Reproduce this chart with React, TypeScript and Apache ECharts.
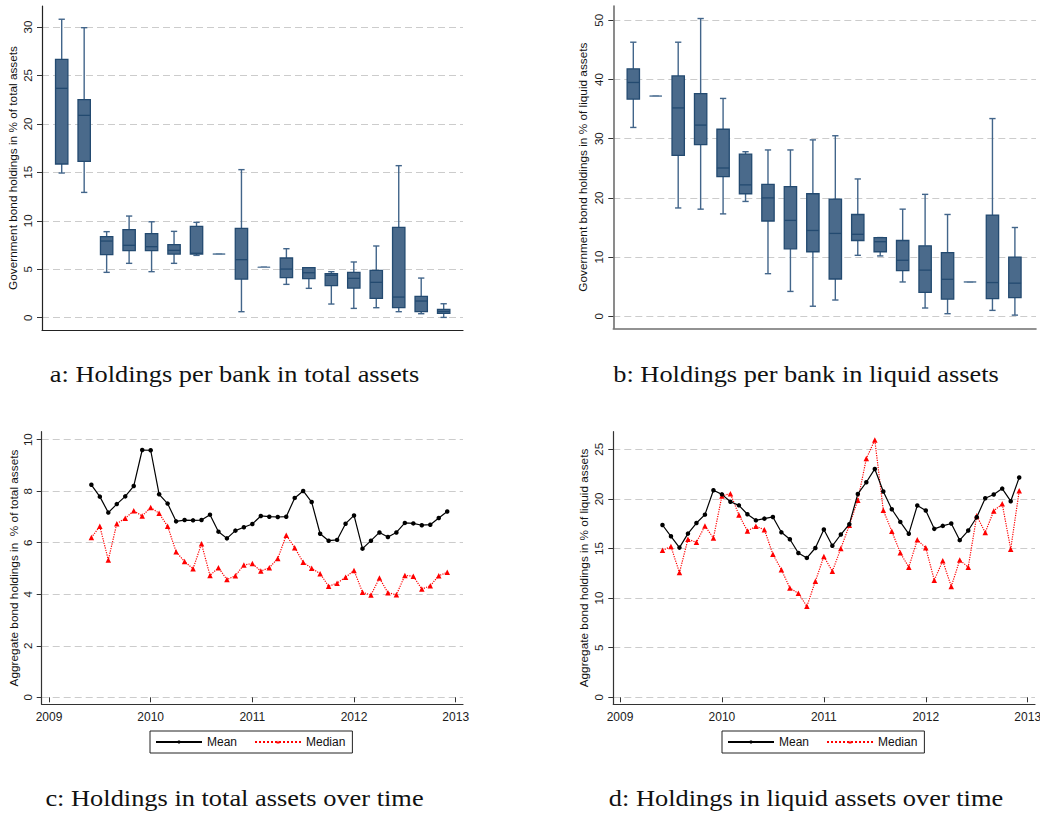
import React, { useEffect, useRef } from "react";
import * as echarts from "echarts";

// Month of each observation in the two time-series panels
const months = [
  "2009-06", "2009-07", "2009-08", "2009-09", "2009-10", "2009-11", "2009-12",
  "2010-01", "2010-02", "2010-03", "2010-04", "2010-05", "2010-06", "2010-07",
  "2010-08", "2010-09", "2010-10", "2010-11", "2010-12",
  "2011-01", "2011-02", "2011-03", "2011-04", "2011-05", "2011-06", "2011-07",
  "2011-08", "2011-09", "2011-10", "2011-11", "2011-12",
  "2012-01", "2012-02", "2012-03", "2012-04", "2012-05", "2012-06", "2012-07",
  "2012-08", "2012-09", "2012-10", "2012-11", "2012-12",
];

// Box statistics per group: [lower whisker, Q1, median, Q3, upper whisker]
const totalAssetBoxes = [
  [14.93, 15.86, 23.67, 26.66, 30.8],
  [12.93, 16.13, 20.88, 22.5, 29.93],
  [4.68, 6.5, 7.91, 8.36, 8.88],
  [5.61, 6.92, 7.47, 9.08, 10.49],
  [4.75, 6.92, 7.33, 8.67, 9.9],
  [5.61, 6.57, 6.95, 7.54, 8.91],
  [6.43, 6.57, 6.65, 9.43, 9.84],
  [6.57, 6.57, 6.57, 6.57, 6.57],
  [0.62, 3.99, 5.99, 9.22, 15.28],
  [5.2, 5.2, 5.2, 5.2, 5.2],
  [3.44, 4.13, 5.02, 6.16, 7.12],
  [3.03, 4.03, 4.64, 5.16, 5.16],
  [1.41, 3.3, 4.37, 4.54, 4.75],
  [0.96, 3.06, 4.06, 4.68, 5.75],
  [1.03, 2.0, 3.65, 4.89, 7.4],
  [0.62, 1.03, 2.13, 9.32, 15.69],
  [0.41, 0.62, 1.72, 2.2, 4.09],
  [0.03, 0.45, 0.65, 0.86, 1.44],
];

const liquidAssetBoxes = [
  [31.9, 36.7, 39.5, 41.8, 46.3],
  [37.2, 37.2, 37.2, 37.2, 37.2],
  [18.3, 27.2, 35.2, 40.6, 46.3],
  [18.1, 29.0, 32.3, 37.6, 50.3],
  [17.3, 23.6, 25.05, 31.6, 36.8],
  [19.4, 20.7, 22.2, 27.4, 27.8],
  [7.2, 16.1, 20.0, 22.3, 28.1],
  [4.2, 11.4, 16.2, 21.9, 28.1],
  [1.7, 10.9, 14.5, 20.7, 29.8],
  [2.75, 6.3, 14.0, 19.8, 30.5],
  [10.3, 12.8, 13.85, 17.2, 23.2],
  [10.2, 10.9, 12.6, 13.3, 13.3],
  [5.8, 7.7, 9.46, 12.8, 18.1],
  [1.4, 4.05, 7.8, 11.9, 20.6],
  [0.44, 2.9, 6.25, 10.75, 17.2],
  [5.8, 5.8, 5.8, 5.8, 5.8],
  [1.0, 3.0, 5.7, 17.1, 33.4],
  [0.2, 3.15, 5.6, 10.0, 15.0],
];

// Aggregate holdings in % of total assets
const meanTotal = [
  8.25, 7.79, 7.17, 7.5, 7.8, 8.2, 9.6, 9.59, 7.88, 7.52,
  6.83, 6.88, 6.87, 6.88, 7.09, 6.43, 6.17, 6.47, 6.6, 6.73,
  7.04, 7.01, 7.0, 7.01, 7.74, 8.01, 7.58, 6.35, 6.08, 6.11,
  6.74, 7.06, 5.77, 6.08, 6.4, 6.22, 6.4, 6.77, 6.75, 6.68,
  6.7, 6.96, 7.21,
];
const medianTotal = [
  6.2, 6.64, 5.33, 6.74, 6.95, 7.24, 7.04, 7.37, 7.14, 6.64,
  5.65, 5.27, 4.99, 5.96, 4.73, 5.03, 4.57, 4.72, 5.14, 5.19,
  4.9, 5.03, 5.39, 6.29, 5.81, 5.24, 5.01, 4.8, 4.31, 4.43,
  4.66, 4.92, 4.08, 3.97, 4.63, 4.06, 3.98, 4.73, 4.7, 4.2,
  4.33, 4.72, 4.85,
];

// Aggregate holdings in % of liquid assets
const meanLiquid = [
  17.37, 16.23, 15.09, 16.5, 17.57, 18.41, 20.87, 20.46, 19.72, 19.35,
  18.45, 17.84, 18.01, 18.18, 16.63, 15.93, 14.55, 14.05, 15.05, 16.91,
  15.27, 16.41, 17.45, 20.5, 21.68, 23.02, 20.74, 18.96, 17.68, 16.48,
  19.33, 18.83, 16.98, 17.28, 17.52, 15.84, 16.81, 18.15, 20.07, 20.44,
  21.04, 19.77, 22.15,
];
const medianLiquid = [
  14.82, 15.19, 12.57, 15.93, 15.62, 17.27, 16.06, 20.3, 20.53, 18.38,
  16.77, 17.24, 16.9, 14.42, 12.87, 11.02, 10.48, 9.17, 11.69, 14.2,
  12.7, 15.0, 17.35, 19.87, 24.06, 25.94, 18.85, 16.74, 14.56, 13.12,
  15.87, 15.07, 11.81, 13.76, 11.17, 13.83, 13.12, 18.29, 16.61, 18.79,
  19.5, 14.93, 20.81,
];

const yearTicks = [2009, 2010, 2011, 2012, 2013];

const captions = [
  "a: Holdings per bank in total assets",
  "b: Holdings per bank in liquid assets",
  "c: Holdings in total assets over time",
  "d: Holdings in liquid assets over time",
];

const SANS = "'Liberation Sans', Arial, Helvetica, sans-serif";
const SERIF = "'Liberation Serif', 'Times New Roman', serif";

const BOX_FILL = "#4a6a8b";
const BOX_EDGE = "#234a70";
const WHISKER = "#42658a";
const GRID_DASH = "#cccccc";

function monthToYear(m: string): number {
  const [y, mo] = m.split("-").map(Number);
  return y + (mo - 1) / 12;
}

type Rect = { left: number; top: number; width: number; height: number };

function buildOption() {
  const grids: any[] = [];
  const xAxes: any[] = [];
  const yAxes: any[] = [];
  const series: any[] = [];

  const addGrid = (r: Rect) => {
    grids.push({ ...r, containLabel: false, outerBoundsMode: "none" });
    return grids.length - 1;
  };

  // Outer L-shaped frame carrying the axis lines and the y-axis title
  const addFrame = (r: Rect, name: string, nameGap: number, color: string, width: number) => {
    const gi = addGrid(r);
    const common = {
      gridIndex: gi,
      type: "value",
      min: 0,
      max: 1,
      axisTick: { show: false },
      axisLabel: { show: false },
      splitLine: { show: false },
      axisLine: { show: true, onZero: false, lineStyle: { color, width } },
    };
    xAxes.push({ ...common });
    yAxes.push({
      ...common,
      name,
      nameLocation: "middle",
      nameGap,
      nameRotate: 90,
      nameMoveOverlap: false,
      nameTextStyle: { fontFamily: SANS, fontSize: 11.8, color: "#111" },
    });
  };

  // Value scale with dashed grid lines and rotated tick labels
  const addScale = (r: Rect, yMax: number, yInterval: number, xMin: number, xMax: number) => {
    const gi = addGrid(r);
    xAxes.push({ gridIndex: gi, type: "value", min: xMin, max: xMax, show: false });
    yAxes.push({
      gridIndex: gi,
      type: "value",
      min: 0,
      max: yMax,
      interval: yInterval,
      axisLine: { show: false },
      axisTick: { show: true, length: 5, lineStyle: { color: "#333", width: 1 } },
      axisLabel: {
        rotate: 90,
        margin: 8,
        fontFamily: SANS,
        fontSize: 11.5,
        color: "#1a1a1a",
        formatter: (v: number) => String(v),
      },
      splitLine: { show: true, lineStyle: { color: GRID_DASH, width: 1.2, type: [7, 4] } },
    });
    return gi;
  };

  // Time axis for the line panels
  const addTime = (r: Rect, yMax: number) => {
    const gi = addGrid(r);
    xAxes.push({
      gridIndex: gi,
      type: "value",
      min: yearTicks[0],
      max: yearTicks[yearTicks.length - 1],
      interval: 1,
      offset: 7,
      axisLine: { show: false },
      axisTick: { show: true, length: 5, lineStyle: { color: "#333", width: 1 } },
      axisLabel: {
        margin: 7,
        fontFamily: SANS,
        fontSize: 12,
        color: "#1a1a1a",
        formatter: (v: number) => String(v),
      },
      splitLine: { show: false },
    });
    yAxes.push({ gridIndex: gi, type: "value", min: 0, max: yMax, show: false });
    return gi;
  };

  const boxRenderer = (params: any, api: any) => {
    const x = api.value(0);
    const lo = api.coord([x, api.value(1)]);
    const q1 = api.coord([x, api.value(2)]);
    const md = api.coord([x, api.value(3)]);
    const q3 = api.coord([x, api.value(4)]);
    const hi = api.coord([x, api.value(5)]);
    const band = api.size([1, 0])[0];
    const w = band * 0.55;
    const cap = band * 0.28;
    const cx = md[0];
    const flat = q1[1] - q3[1] < 0.5;
    const whisk = { stroke: WHISKER, lineWidth: 1.4 };
    const children: any[] = [
      { type: "line", shape: { x1: cx, y1: q3[1], x2: cx, y2: hi[1] }, style: whisk },
      { type: "line", shape: { x1: cx, y1: q1[1], x2: cx, y2: lo[1] }, style: whisk },
      { type: "line", shape: { x1: cx - cap / 2, y1: hi[1], x2: cx + cap / 2, y2: hi[1] }, style: whisk },
      { type: "line", shape: { x1: cx - cap / 2, y1: lo[1], x2: cx + cap / 2, y2: lo[1] }, style: whisk },
      {
        type: "rect",
        shape: { x: cx - w / 2, y: q3[1], width: w, height: Math.max(q1[1] - q3[1], 0) },
        style: { fill: BOX_FILL, stroke: flat ? "#6d89a6" : BOX_EDGE, lineWidth: 1.3 },
      },
      {
        type: "line",
        shape: { x1: cx - w / 2, y1: md[1], x2: cx + w / 2, y2: md[1] },
        style: { stroke: flat ? "#6d89a6" : BOX_EDGE, lineWidth: 1.3 },
      },
    ];
    return { type: "group", children };
  };

  const addBoxes = (gi: number, boxes: number[][]) => {
    series.push({
      type: "custom",
      xAxisIndex: gi,
      yAxisIndex: gi,
      renderItem: boxRenderer,
      encode: { x: 0, y: [1, 2, 3, 4, 5] },
      data: boxes.map((b, i) => [i + 1, ...b]),
      clip: false,
    });
  };

  const addLines = (gi: number, mean: number[], median: number[]) => {
    const xs = months.map(monthToYear);
    series.push({
      type: "line",
      name: "Mean",
      xAxisIndex: gi,
      yAxisIndex: gi,
      data: xs.map((x, i) => [x, mean[i]]),
      symbol: "circle",
      symbolSize: 4.5,
      showAllSymbol: true,
      clip: false,
      itemStyle: { color: "#000" },
      lineStyle: { color: "#000", width: 1.2 },
      z: 3,
    });
    series.push({
      type: "line",
      name: "Median",
      xAxisIndex: gi,
      yAxisIndex: gi,
      data: xs.map((x, i) => [x, median[i]]),
      symbol: "triangle",
      symbolSize: 5.5,
      showAllSymbol: true,
      clip: false,
      itemStyle: { color: "#ff0000" },
      lineStyle: { color: "#ff0000", width: 1.2, type: "dotted" },
      z: 2,
    });
  };

  // Panel a
  addFrame({ left: 42, top: 6, width: 421, height: 324 }, "Government bond holdings in % of total assets", 23, "#222", 1.2);
  const ga = addScale({ left: 42, top: 27, width: 421, height: 290.7 }, 30, 5, 0.123, 18.86);
  addBoxes(ga, totalAssetBoxes);

  // Panel b
  addFrame({ left: 613.3, top: 6, width: 422.7, height: 322.3 }, "Government bond holdings in % of liquid assets", 24, "#6f6f6f", 1.6);
  const gb = addScale({ left: 613.3, top: 20.3, width: 422.7, height: 296 }, 50, 10, 0.109, 18.94);
  addBoxes(gb, liquidAssetBoxes);

  // Panel c
  addFrame({ left: 41.7, top: 431.7, width: 421.3, height: 272.6 }, "Aggregate bond holdings in  % of total assets", 22, "#333", 1.2);
  addScale({ left: 41.7, top: 439.7, width: 421.3, height: 257.6 }, 10, 2, 0, 1);
  const gc = addTime({ left: 49, top: 439.7, width: 406.7, height: 257.6 }, 10);
  addLines(gc, meanTotal, medianTotal);

  // Panel d
  addFrame({ left: 613.3, top: 431.7, width: 421.7, height: 272.6 }, "Aggregate bond holdings in % of liquid assets", 23, "#333", 1.2);
  addScale({ left: 613.3, top: 449.3, width: 421.7, height: 248 }, 25, 5, 0, 1);
  const gd = addTime({ left: 620, top: 449.3, width: 407.7, height: 248 }, 25);
  addLines(gd, meanLiquid, medianLiquid);

  const legendBase = {
    orient: "horizontal",
    top: 731,
    data: ["Mean", "Median"],
    itemWidth: 46,
    itemHeight: 4,
    itemGap: 17,
    padding: [5, 7, 5, 5],
    borderColor: "#222",
    borderWidth: 1,
    selectedMode: false,
    textStyle: { fontFamily: SANS, fontSize: 12, color: "#111" },
  };

  const captionText = (text: string, x: number, y: number) => ({
    type: "text",
    x,
    y,
    scaleX: 1.1,
    style: {
      text,
      fill: "#111",
      font: `24px ${SERIF}`,
      textAlign: "center",
      textVerticalAlign: "middle",
    },
  });

  return {
    animation: false,
    backgroundColor: "#ffffff",
    grid: grids,
    xAxis: xAxes,
    yAxis: yAxes,
    series,
    legend: [
      { ...legendBase, left: 150 },
      { ...legendBase, left: 722 },
    ],
    graphic: [
      captionText(captions[0], 234.5, 374),
      captionText(captions[1], 806, 374),
      captionText(captions[2], 234.5, 798),
      captionText(captions[3], 806, 798),
    ],
  };
}

export default function App() {
  const ref = useRef<HTMLDivElement>(null);

  useEffect(() => {
    if (!ref.current) return;
    const chart = echarts.init(ref.current, undefined, { renderer: "svg" });
    chart.setOption(buildOption() as any);
    return () => chart.dispose();
  }, []);

  return (
    <div
      ref={ref}
      style={{ position: "fixed", left: 0, top: 0, width: 1040, height: 814, background: "#fff" }}
    />
  );
}
